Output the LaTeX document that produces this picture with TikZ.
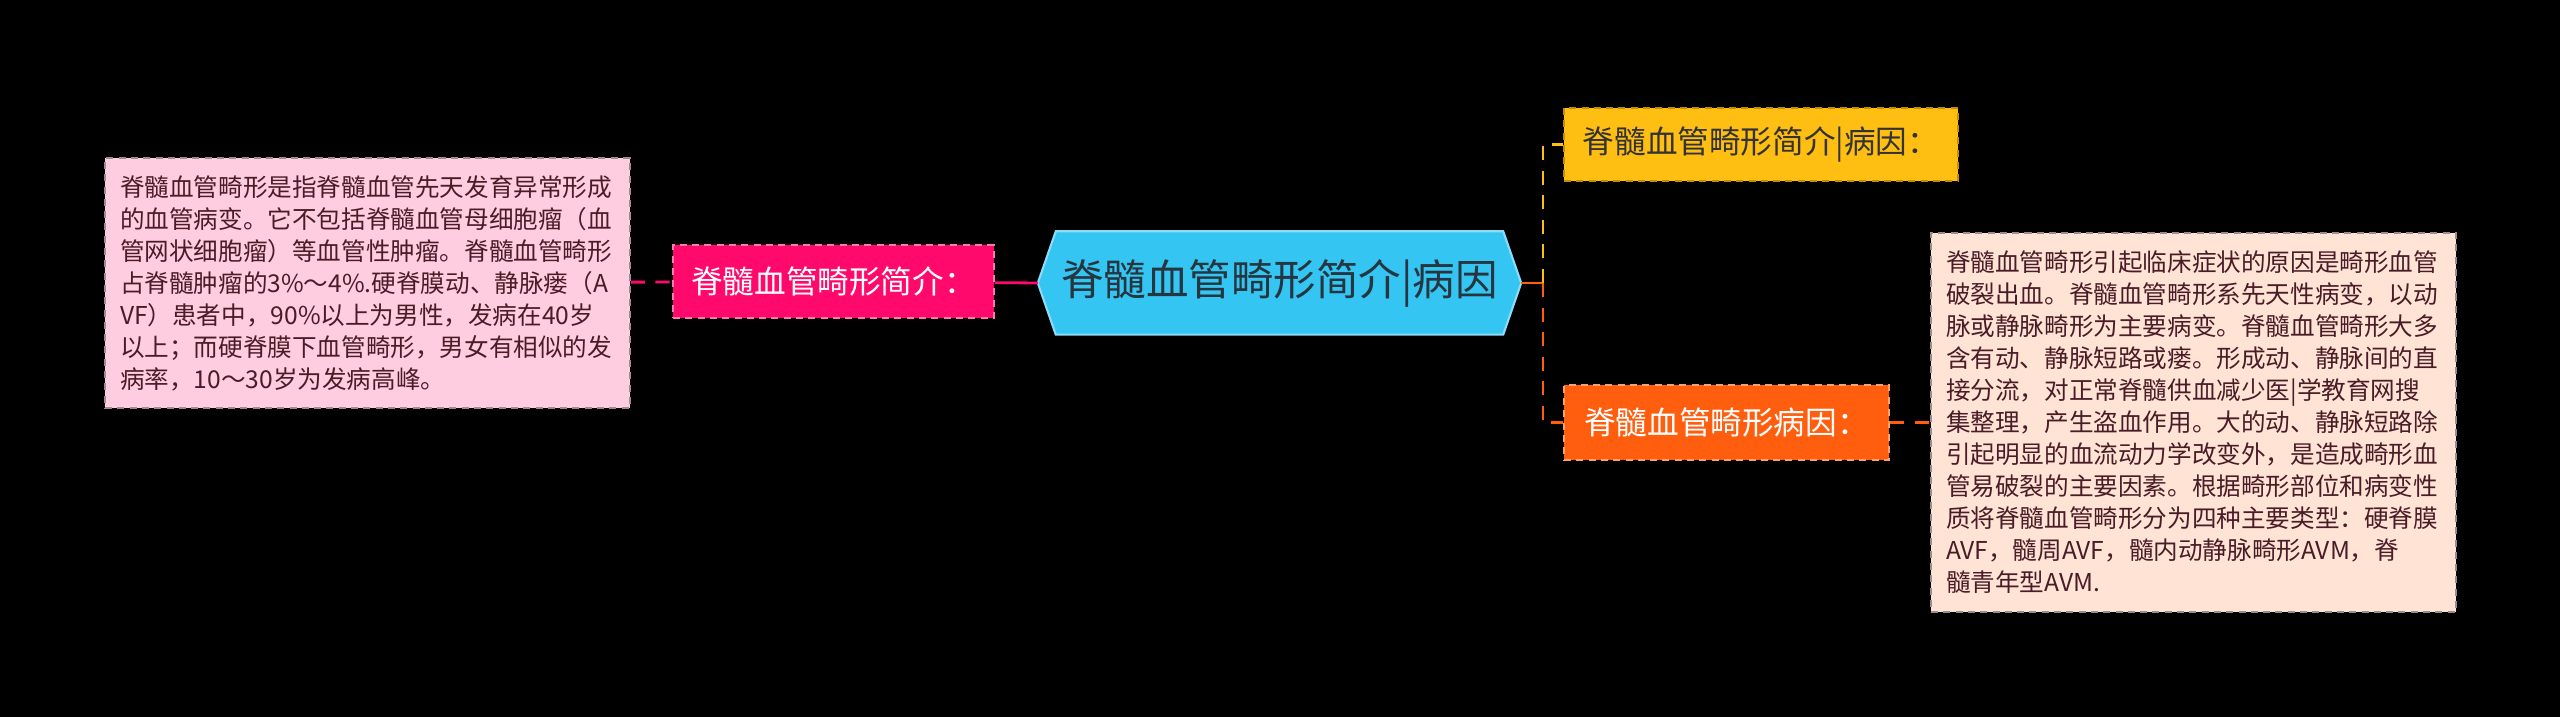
\documentclass[tikz,border=0pt]{standalone}
\usepackage{fontspec}
\setmainfont{Noto Sans CJK SC}
\usetikzlibrary{backgrounds}
\definecolor{hubfill}{HTML}{35C5F2}
\definecolor{hubline}{HTML}{8ADCF7}
\definecolor{rosefill}{HTML}{FF0A6C}
\definecolor{roseline}{HTML}{FF7AAE}
\definecolor{goldfill}{HTML}{FFBE12}
\definecolor{goldline}{HTML}{C98E00}
\definecolor{flamefill}{HTML}{FF5E0E}
\definecolor{flameline}{HTML}{FFA070}
\definecolor{rosenote}{HTML}{FFCCE0}
\definecolor{peachnote}{HTML}{FFE3D4}
\definecolor{noteline}{HTML}{9C8C92}
\definecolor{notetext}{HTML}{4A1C28}
\definecolor{hubtext}{HTML}{263640}
\begin{document}
\begin{tikzpicture}[
  topic/.style={draw, dashed, dash pattern=on 2pt off 1.5pt, line width=0.6pt, inner sep=0pt,
    minimum height=0.73cm, font=\fontsize{9}{11}\selectfont},
  note/.style={draw=noteline, dashed, dash pattern=on 2pt off 1.5pt, line width=0.5pt, inner sep=0.15cm,
    text width=4.95cm, align=left, text=notetext, font=\fontsize{7}{9.1}\selectfont},
  link/.style={line width=0.8pt}
]
\node[minimum width=4.46cm, minimum height=1.02cm, inner sep=0pt, text=hubtext,
  font=\fontsize{12.1}{14}\selectfont] (hub) at (12.795,-2.83) {脊髓血管畸形简介|病因};
\coordinate (hubleft) at ([xshift=-0.18cm]hub.west);
\coordinate (hubright) at ([xshift=0.18cm]hub.east);
\begin{scope}[on background layer]
\fill[black] (0,0) rectangle (25.6,-7.17);
\filldraw[fill=hubfill, draw=hubline, line width=0.6pt] (hubleft) -- (hub.north west) -- (hub.north east)
  -- (hubright) -- (hub.south east) -- (hub.south west) -- cycle;
\end{scope}
\node[topic, draw=roseline, fill=rosefill, text=white, minimum width=3.21cm] (intro) at (8.335,-2.815) {脊髓血管畸形简介：};
\node[note, fill=rosenote, minimum height=2.5cm] (introtext) at (3.675,-2.83) {脊髓血管畸形是指脊髓血管先天发育异常形成\\的血管病变。它不包括脊髓血管母细胞瘤（血\\管网状细胞瘤）等血管性肿瘤。脊髓血管畸形\\占脊髓肿瘤的3\%～4\%.硬脊膜动、静脉瘘（A\\VF）患者中，90\%以上为男性，发病在40岁\\以上；而硬脊膜下血管畸形，男女有相似的发\\病率，10～30岁为发病高峰。};
\node[topic, draw=goldline, fill=goldfill, text=black!80, minimum width=3.94cm] (introcause) at (17.61,-1.445) {脊髓血管畸形简介|病因：};
\node[topic, draw=flameline, fill=flamefill, text=white, minimum width=3.25cm, minimum height=0.75cm] (cause) at (17.265,-4.225) {脊髓血管畸形病因：};
\node[note, fill=peachnote, minimum height=3.79cm] (causetext) at (21.935,-4.225) {脊髓血管畸形引起临床症状的原因是畸形血管\\破裂出血。脊髓血管畸形系先天性病变，以动\\脉或静脉畸形为主要病变。脊髓血管畸形大多\\含有动、静脉短路或瘘。形成动、静脉间的直\\接分流，对正常脊髓供血减少医|学教育网搜\\集整理，产生盗血作用。大的动、静脉短路除\\引起明显的血流动力学改变外，是造成畸形血\\管易破裂的主要因素。根据畸形部位和病变性\\质将脊髓血管畸形分为四种主要类型：硬脊膜\\AVF，髓周AVF，髓内动静脉畸形AVM，脊\\髓青年型AVM.};
\coordinate (fork) at (15.43,-2.83);
\draw[link, rosefill] (intro) -- (hubleft);
\draw[link, rosefill, dashed, dash pattern=on 4pt off 3pt] (introtext) -- (intro);
\draw[link, flamefill] (hubright) -- (fork);
\draw[link, goldfill, dashed, dash pattern=on 4pt off 3pt] (fork) |- (introcause);
\draw[link, flamefill, dashed, dash pattern=on 4pt off 3pt] (fork) |- (cause);
\draw[link, flamefill, dashed, dash pattern=on 4pt off 3pt] (cause) -- (causetext);
\end{tikzpicture}
\end{document}
